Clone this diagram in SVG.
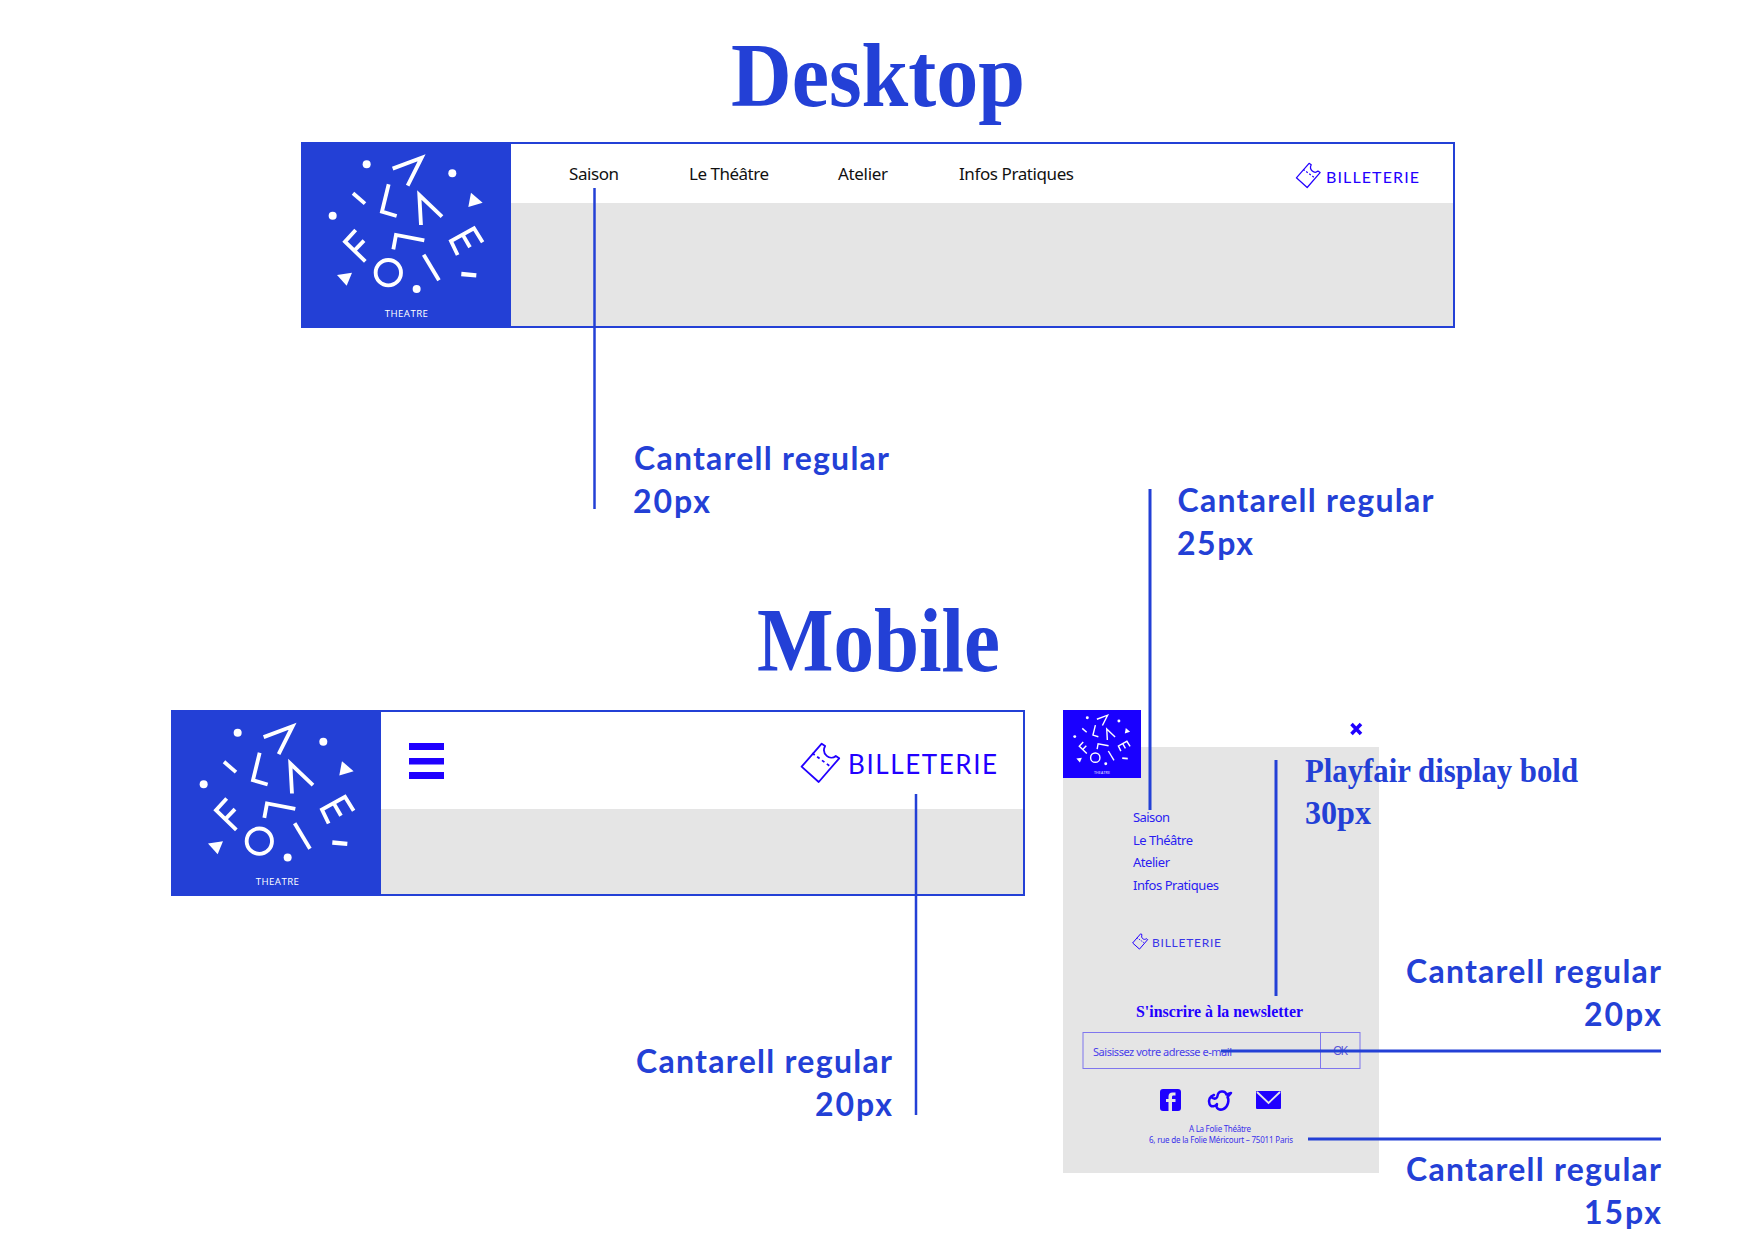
<svg xmlns="http://www.w3.org/2000/svg" xmlns:xlink="http://www.w3.org/1999/xlink" width="1755" height="1242" viewBox="0 0 1755 1242">
<style>
text{font-family:"Noto Sans","Liberation Sans",sans-serif}
.title{font-family:"Liberation Serif",serif;font-weight:700;font-size:90px;fill:#2340d6}
.serif{font-family:"Liberation Serif",serif;font-weight:700}
.note{font-family:"Lato","Open Sans",sans-serif;font-weight:700;font-size:32px;fill:#2340d6}
.menu{font-size:17px;fill:#111}
.bil{font-family:"Lato",sans-serif;font-weight:400;fill:#2200ff}
.side{font-size:13px;fill:#2a1cf2}
.frame{fill:none;stroke:#2340d6;stroke-width:2}
.lead{fill:none;stroke:#2340d6}
.ls{fill:none;stroke:#fff;stroke-width:11.500}
.tk{fill:none;stroke:#2200ff;stroke-linejoin:round}
</style>
<defs>
<g id="art">
<g fill="#fff">
<circle cx="230" cy="103" r="12"/><circle cx="487" cy="130" r="12"/><circle cx="128" cy="257" r="12"/><circle cx="380" cy="477" r="12"/>
<polygon points="535,231 578,218 543,188"/><polygon points="141,435 186,428 170,467"/>
</g>
<polyline class="ls" points="308,116 395,83 353,167"/>
<polyline class="ls" points="296,163 276,245 320,258"/>
<polyline class="ls" points="393,285 388,195 456,260"/>
<polyline class="ls" points="310,358 318,315 403,331"/>
<line class="ls" x1="189" y1="190" x2="225" y2="221"/>
<polyline class="ls" points="197,300 165,335 226,394"/>
<line class="ls" x1="193" y1="362" x2="222" y2="332"/>
<circle class="ls" cx="295" cy="428" r="38"/>
<line class="ls" x1="401" y1="374" x2="447" y2="451"/>
<polyline class="ls" points="578,337 552,295 483,333 503,375"/>
<line class="ls" x1="518" y1="314" x2="540" y2="352"/>
<line class="ls" x1="514" y1="432" x2="559" y2="436" style="stroke-width:13"/>
<text x="284" y="561" font-size="29" textLength="130" fill="#fff" style="font-family:'Open Sans',sans-serif">THEATRE</text>
</g>
<g id="ticket">
<path class="tk" d="M-18.400 3.700L-1.300 19L19.200 -4.700L15.800 -7C10 -2 1 -9 5.100 -17L1.700 -19.300Z"/>
<line class="tk" x1="-7.700" y1="-9.700" x2="10.700" y2="3.700" stroke-dasharray="3 3"/>
</g>
</defs>

<text class="title" x="731" y="106" textLength="294" lengthAdjust="spacingAndGlyphs">Desktop</text>
<text class="title" x="757" y="671" textLength="243" lengthAdjust="spacingAndGlyphs">Mobile</text>

<g id="desktop-header">
<rect x="511" y="203" width="943" height="124" fill="#e5e5e5"/>
<rect class="frame" x="302" y="143" width="1152" height="184"/>
<rect x="301" y="142" width="210" height="186" fill="#2340d6"/>
<use xlink:href="#art" href="#art" transform="translate(290 130) scale(.3333)"/>
<text class="menu" x="569" y="179.500" textLength="50">Saison</text>
<text class="menu" x="689" y="179.500" textLength="80">Le Théâtre</text>
<text class="menu" x="838" y="179.500" textLength="50">Atelier</text>
<text class="menu" x="959" y="179.500" textLength="115">Infos Pratiques</text>
<use xlink:href="#ticket" href="#ticket" transform="translate(1308 175.500) scale(.63)" stroke-width="2"/>
<text class="bil" x="1326" y="183" font-size="16" textLength="93">BILLETERIE</text>
</g>

<g id="mobile-header" transform="translate(0 1)">
<rect x="381" y="808" width="643" height="87" fill="#e5e5e5"/>
<rect class="frame" x="172" y="710" width="852" height="184"/>
<rect x="171" y="709" width="210" height="186" fill="#2340d6"/>
<use xlink:href="#art" href="#art" transform="translate(161 697.500) scale(.3333)"/>
<g fill="#1f00ff"><rect x="409" y="742" width="35" height="7"/><rect x="409" y="757" width="35" height="6.500"/><rect x="409" y="771" width="35" height="7"/></g>
<use xlink:href="#ticket" href="#ticket" transform="translate(820 762)" stroke-width="1.800"/>
<text class="bil" x="848" y="773" font-size="26" textLength="149">BILLETERIE</text>
</g>

<g id="mobile-menu" transform="translate(0 1)">
<rect x="1063" y="746" width="316" height="426" fill="#e5e5e5"/>
<rect x="1063" y="709" width="78" height="68" fill="#1a00ff"/>
<use xlink:href="#art" href="#art" transform="translate(1059 704) scale(.1230)"/>
<path d="M1351.500 723L1361 733M1361 723L1351.500 733" stroke="#1f00ff" stroke-width="3.500" fill="none"/>
<text class="side" x="1133" y="821" textLength="37">Saison</text>
<text class="side" x="1133" y="844" textLength="60">Le Théâtre</text>
<text class="side" x="1133" y="866" textLength="37">Atelier</text>
<text class="side" x="1133" y="889" textLength="86">Infos Pratiques</text>
<use xlink:href="#ticket" href="#ticket" transform="translate(1140 940.500) scale(.4)" stroke-width="2.500"/>
<text class="bil" x="1152" y="946" font-size="12" textLength="69" style="fill:#3a35e8">BILLETERIE</text>
<text class="serif" x="1136" y="1016" font-size="17" textLength="167" lengthAdjust="spacingAndGlyphs" fill="#1f00ff">S'inscrire à la newsletter</text>
<rect x="1083" y="1031.500" width="277" height="36" fill="none" stroke="#7f76ee"/>
<line x1="1320.500" y1="1031.500" x2="1320.500" y2="1067.500" stroke="#7f76ee"/>
<text x="1093" y="1055" font-size="11" textLength="139" fill="#4a40ea">Saisissez votre adresse e-mail</text>
<text x="1333" y="1054" font-size="12" textLength="15" fill="#5a55d8">OK</text>
<g id="icon-facebook">
<rect x="1160" y="1088" width="21" height="22" rx="3" fill="#1f00ff"/>
<path d="M1172 1110V1101H1175.500V1098H1172V1096C1172 1095 1172.500 1094.500 1173.500 1094.500H1175.500V1091.500H1172.500C1170 1091.500 1168.500 1093 1168.500 1095.500V1098H1166V1101H1168.500V1110Z" fill="#e5e5e5"/>
</g>
<g id="icon-twitter">
<path d="M1231 1092L1226.500 1093.500C1225 1089 1218 1089.500 1217.500 1095C1217.300 1097 1215 1098.500 1212.500 1097C1211 1096 1212.500 1094.500 1214 1094C1210 1095 1208 1099 1209.500 1103C1211 1107 1216 1105 1217 1103C1215 1108 1220 1109.500 1223.500 1108C1228 1106 1229.500 1099 1227.500 1096Z" fill="none" stroke="#1f00ff" stroke-width="2.500" stroke-linejoin="round"/>
</g>
<g id="icon-mail">
<rect x="1256" y="1090" width="25" height="18" rx="1" fill="#1f00ff"/>
<path d="M1257 1091L1268.500 1102L1280 1091" fill="none" stroke="#e5e5e5" stroke-width="1.800"/>
</g>
<text x="1220" y="1131" font-size="8" text-anchor="middle" textLength="62" fill="#3a30ea">A La Folie Théâtre</text>
<text x="1221" y="1142" font-size="8" text-anchor="middle" textLength="144" fill="#3a30ea">6, rue de la Folie Méricourt – 75011 Paris</text>
</g>

<g id="connectors">
<line class="lead" x1="594.500" y1="188" x2="594.500" y2="509" stroke-width="2.500"/>
<line class="lead" x1="1150" y1="489" x2="1150" y2="810" stroke-width="3"/>
<line class="lead" x1="1276" y1="760" x2="1276" y2="996" stroke-width="3"/>
<line class="lead" x1="916" y1="794" x2="916" y2="1115" stroke-width="2.500"/>
<line class="lead" x1="1221" y1="1051" x2="1661" y2="1051" stroke-width="3"/>
<line class="lead" x1="1308" y1="1139" x2="1661" y2="1139" stroke-width="3"/>
</g>

<g id="annotations">
<text class="note" x="634" y="470" textLength="255">Cantarell regular</text>
<text class="note" x="633" y="512.500" textLength="77">20px</text>
<text class="note" x="1177.500" y="512" textLength="256">Cantarell regular</text>
<text class="note" x="1177" y="555" textLength="76">25px</text>
<text class="serif" x="1305" y="781.500" font-size="34" textLength="273" lengthAdjust="spacingAndGlyphs" fill="#2340d6">Playfair display bold</text>
<text class="serif" x="1305" y="824" font-size="34" textLength="66" lengthAdjust="spacingAndGlyphs" fill="#2340d6">30px</text>
<text class="note" x="1406" y="983" textLength="255">Cantarell regular</text>
<text class="note" x="1584" y="1025.500" textLength="77">20px</text>
<text class="note" x="636" y="1073" textLength="256">Cantarell regular</text>
<text class="note" x="815" y="1116" textLength="77">20px</text>
<text class="note" x="1406" y="1181" textLength="255">Cantarell regular</text>
<text class="note" x="1584" y="1223.500" textLength="77">15px</text>
</g>
</svg>
